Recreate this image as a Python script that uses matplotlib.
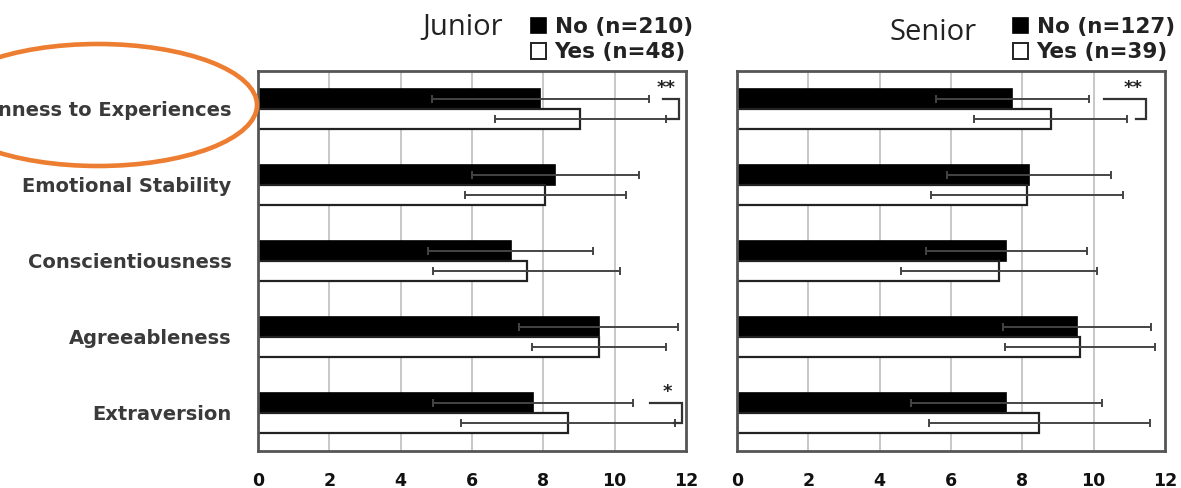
import matplotlib
matplotlib.use('Agg')
import matplotlib.pyplot as plt
from matplotlib.patches import Ellipse, Patch
import numpy as np

categories = ["Openness to Experiences", "Emotional Stability", "Conscientiousness",
              "Agreeableness", "Extraversion"]
x_ticks = [0, 2, 4, 6, 8, 10, 12]

junior_no_mean = [7.92, 8.34, 7.08, 9.55, 7.70]
junior_no_sd = [3.05, 2.35, 2.32, 2.22, 2.80]
junior_yes_mean = [9.04, 8.06, 7.53, 9.55, 8.68]
junior_yes_sd = [2.40, 2.27, 2.62, 1.88, 3.00]

senior_no_mean = [7.72, 8.19, 7.55, 9.53, 7.55]
senior_no_sd = [2.15, 2.29, 2.25, 2.08, 2.67]
senior_yes_mean = [8.79, 8.13, 7.35, 9.62, 8.47]
senior_yes_sd = [2.14, 2.70, 2.75, 2.10, 3.10]

junior_labels = ["No (n=210)", "Yes (n=48)"]
senior_labels = ["No (n=127)", "Yes (n=39)"]

# significance: (category index, stars, top-arm start, bottom-arm start, bracket x)
junior_sig = [(0, "**", 11.35, 11.46, 11.80), (4, "*", 10.98, 11.66, 11.90)]
senior_sig = [(0, "**", 10.28, 11.20, 11.46)]

W, H = 1181, 488
fig = plt.figure(figsize=(W / 100, H / 100), dpi=100)

def fx(px):
    return px / W

def fy(py):
    return 1 - py / H

bar_h = 0.265
off = 0.132
txt_font = ['DejaVu Sans']

def panel(left_px, right_px, no_m, no_s, yes_m, yes_s, sig, show_labels):
    ax = fig.add_axes([fx(left_px), fy(451), fx(right_px - left_px), (451 - 71) / H])
    y = np.arange(len(categories))
    ax.barh(y - off, no_m, height=bar_h, color='black', edgecolor='black', linewidth=1.2, zorder=2)
    ax.barh(y + off, yes_m, height=bar_h, color='white', edgecolor='#222222', linewidth=1.6, zorder=2)
    ax.errorbar(no_m, y - off, xerr=no_s, fmt='none', ecolor='#444444', elinewidth=1.4,
                capsize=2.6, capthick=1.4, zorder=3)
    ax.errorbar(yes_m, y + off, xerr=yes_s, fmt='none', ecolor='#444444', elinewidth=1.4,
                capsize=2.6, capthick=1.4, zorder=3)
    for idx, stars, xa, xb, xv in sig:
        ax.plot([xa, xv, xv, xb], [idx - off, idx - off, idx + off, idx + off],
                color='#333333', lw=1.6, zorder=3, solid_joinstyle='miter')
        ax.text((xa + xv) / 2 + 0.05 if stars == "*" else xv - 0.35, idx - 0.27, stars,
                ha='center', va='center', fontsize=13, fontweight='bold', color='#222222')
    ax.set_xlim(0, 12)
    ax.set_ylim(len(categories) - 0.5, -0.5)
    ax.set_xticks(x_ticks)
    ax.set_xticklabels([str(t) for t in x_ticks], fontsize=12.5, fontweight='bold',
                       family=txt_font, color='#111111')
    ax.tick_params(axis='x', length=0, pad=15)
    ax.tick_params(axis='y', length=0, pad=19)
    for gx in x_ticks[1:-1]:
        ax.axvline(gx, color='#c8c8c8', lw=1.4, zorder=1)
    if show_labels:
        ax.set_yticks(y)
        ax.set_yticklabels(categories, fontsize=14, fontweight='bold', family=txt_font,
                           color='#3a3a3a')
    else:
        ax.set_yticks([])
    for s in ax.spines.values():
        s.set_color('#555555')
        s.set_linewidth(2.0)
    return ax

axL = panel(258, 686, junior_no_mean, junior_no_sd, junior_yes_mean, junior_yes_sd,
            junior_sig, True)
axR = panel(737, 1165, senior_no_mean, senior_no_sd, senior_yes_mean, senior_yes_sd,
            senior_sig, False)

def legend_block(ax, title, title_x, title_y, labels, left_px):
    fig.text(fx(title_x), fy(title_y), title, ha='center', va='center', fontsize=21,
             family=['Open Sans', 'DejaVu Sans'], color='#222222')
    handles = [Patch(facecolor='black', edgecolor='black', linewidth=1.2),
               Patch(facecolor='white', edgecolor='#222222', linewidth=1.4)]
    leg = ax.legend(handles, labels, loc='upper left',
                    bbox_to_anchor=(fx(left_px), fy(17)), bbox_transform=fig.transFigure,
                    frameon=False, borderpad=0, borderaxespad=0, handlelength=0.7,
                    handleheight=0.75, handletextpad=0.4, labelspacing=0.25,
                    prop={'family': txt_font, 'weight': 'bold', 'size': 15.5})
    for t in leg.get_texts():
        t.set_color('#222222')

legend_block(axL, "Junior", 463, 27, junior_labels, 531)
legend_block(axR, "Senior", 933, 33, senior_labels, 1013)

ell = Ellipse((fx(98), fy(105)), fx(318), 122 / H, transform=fig.transFigure,
              facecolor='none', edgecolor='#ED7D31', linewidth=3.3, zorder=10)
fig.add_artist(ell)

fig.savefig('out.png', dpi=100)
